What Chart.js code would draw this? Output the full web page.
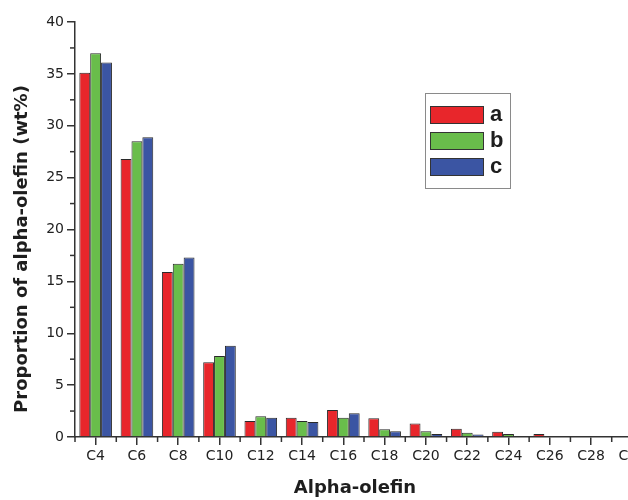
<!DOCTYPE html>
<html>
<head>
<meta charset="utf-8">
<script src="https://cdn.jsdelivr.net/npm/chart.js@4.4.1/dist/chart.umd.min.js"></script>
<style>
  html, body { margin: 0; padding: 0; background: #fff; overflow: hidden; }
  #wrap { width: 628px; height: 500px; overflow: hidden; position: relative; }
  #box { width: 680px; height: 500px; position: absolute; left: 0; top: 0; }
</style>
</head>
<body>
<div id="wrap"><div id="box"><canvas id="c"></canvas></div></div>
<script>
// ---- data ----
const categories = ['C4','C6','C8','C10','C12','C14','C16','C18','C20','C22','C24','C26','C28','C30'];
const seriesA = [35.1, 26.8, 15.9, 7.2, 1.55, 1.85, 2.6, 1.8, 1.3, 0.8, 0.5, 0.3, null, null];
const seriesB = [37.0, 28.5, 16.7, 7.8, 2.0, 1.55, 1.85, 0.75, 0.55, 0.4, 0.3, null, null, null];
const seriesC = [36.1, 28.9, 17.3, 8.8, 1.85, 1.45, 2.3, 0.55, 0.3, 0.25, null, null, null, null];
const seriesNames = ['a', 'b', 'c'];
const yTicks = [0, 5, 10, 15, 20, 25, 30, 35, 40];
const xTitle = 'Alpha-olefin';
const yTitle = 'Proportion of alpha-olefin (wt%)';

const colors = ['#e8262b', '#69bd4b', '#3b55a3'];
const axisColor = '#333333';
const FONT = '"DejaVu Sans", sans-serif';

const extras = {
  id: 'extras',
  afterDraw(chart) {
    const ctx = chart.ctx;
    const x = chart.scales.x, y = chart.scales.y;
    const area = chart.chartArea;
    ctx.save();
    ctx.strokeStyle = axisColor;
    ctx.lineWidth = 1.5;
    // minor x ticks at category boundaries
    const n = categories.length;
    const step = (x.right - x.left) / n;
    for (let i = 0; i <= n; i++) {
      const px = x.left + i * step;
      ctx.beginPath();
      ctx.moveTo(px, area.bottom);
      ctx.lineTo(px, area.bottom + 5);
      ctx.stroke();
    }
    // minor y ticks at midpoints
    for (let i = 0; i < yTicks.length - 1; i++) {
      const v = (yTicks[i] + yTicks[i + 1]) / 2;
      const py = y.getPixelForValue(v);
      ctx.beginPath();
      ctx.moveTo(area.left - 5, py);
      ctx.lineTo(area.left, py);
      ctx.stroke();
    }
    // axis titles
    ctx.fillStyle = '#1e1e1e';
    ctx.font = 'bold 18px ' + FONT;
    ctx.textAlign = 'center';
    ctx.textBaseline = 'middle';
    ctx.fillText(xTitle, 355, 488);
    ctx.save();
    ctx.translate(22, 249);
    ctx.rotate(-Math.PI / 2);
    ctx.fillText(yTitle, 0, 0);
    ctx.restore();
    // legend
    ctx.strokeStyle = '#8a8a8a';
    ctx.lineWidth = 1;
    ctx.strokeRect(425.5, 93.5, 85, 95);
    const rows = [106, 132, 158];
    chart.data.datasets.forEach((ds, i) => {
      ctx.fillStyle = ds.backgroundColor;
      ctx.fillRect(430, rows[i], 54, 17.5);
      ctx.strokeStyle = '#333';
      ctx.strokeRect(430.5, rows[i] + 0.5, 53, 17);
      ctx.fillStyle = '#1e1e1e';
      ctx.font = 'bold 22px "Liberation Sans", Arial, sans-serif';
      ctx.textAlign = 'left';
      ctx.textBaseline = 'middle';
      ctx.fillText(ds.label, 490, rows[i] + 9);
    });
    ctx.restore();
  }
};

new Chart(document.getElementById('c'), {
  type: 'bar',
  data: {
    labels: categories,
    datasets: [seriesA, seriesB, seriesC].map((d, i) => ({
      label: seriesNames[i],
      data: d,
      backgroundColor: colors[i],
      borderColor: '#2a2a2a',
      borderWidth: 1,
      borderSkipped: 'bottom',
      categoryPercentage: 0.79,
      barPercentage: 1.0
    }))
  },
  options: {
    responsive: true,
    maintainAspectRatio: false,
    animation: false,
    layout: { padding: { top: 22, right: 27, left: 0, bottom: 0 } },
    plugins: { legend: { display: false }, tooltip: { enabled: false } },
    scales: {
      x: {
        grid: { offset: false, drawOnChartArea: false, drawTicks: true, tickLength: 8, color: axisColor, lineWidth: 1.5 },
        border: { display: true, color: axisColor, width: 1.5 },
        ticks: { autoSkip: false, maxRotation: 0, padding: 3, color: '#222', font: { family: FONT, size: 14 } },
        afterFit(s) { s.height = 63; }
      },
      y: {
        min: 0, max: 40,
        afterBuildTicks(s) { s.ticks = yTicks.map(v => ({ value: v })); },
        grid: { drawOnChartArea: false, drawTicks: true, tickLength: 8, color: axisColor, lineWidth: 1.5 },
        border: { display: true, color: axisColor, width: 1.5 },
        ticks: { padding: 3, color: '#222', font: { family: FONT, size: 14 } },
        afterFit(s) { s.width = 75; }
      }
    }
  },
  plugins: [extras]
});
</script>
</body>
</html>
